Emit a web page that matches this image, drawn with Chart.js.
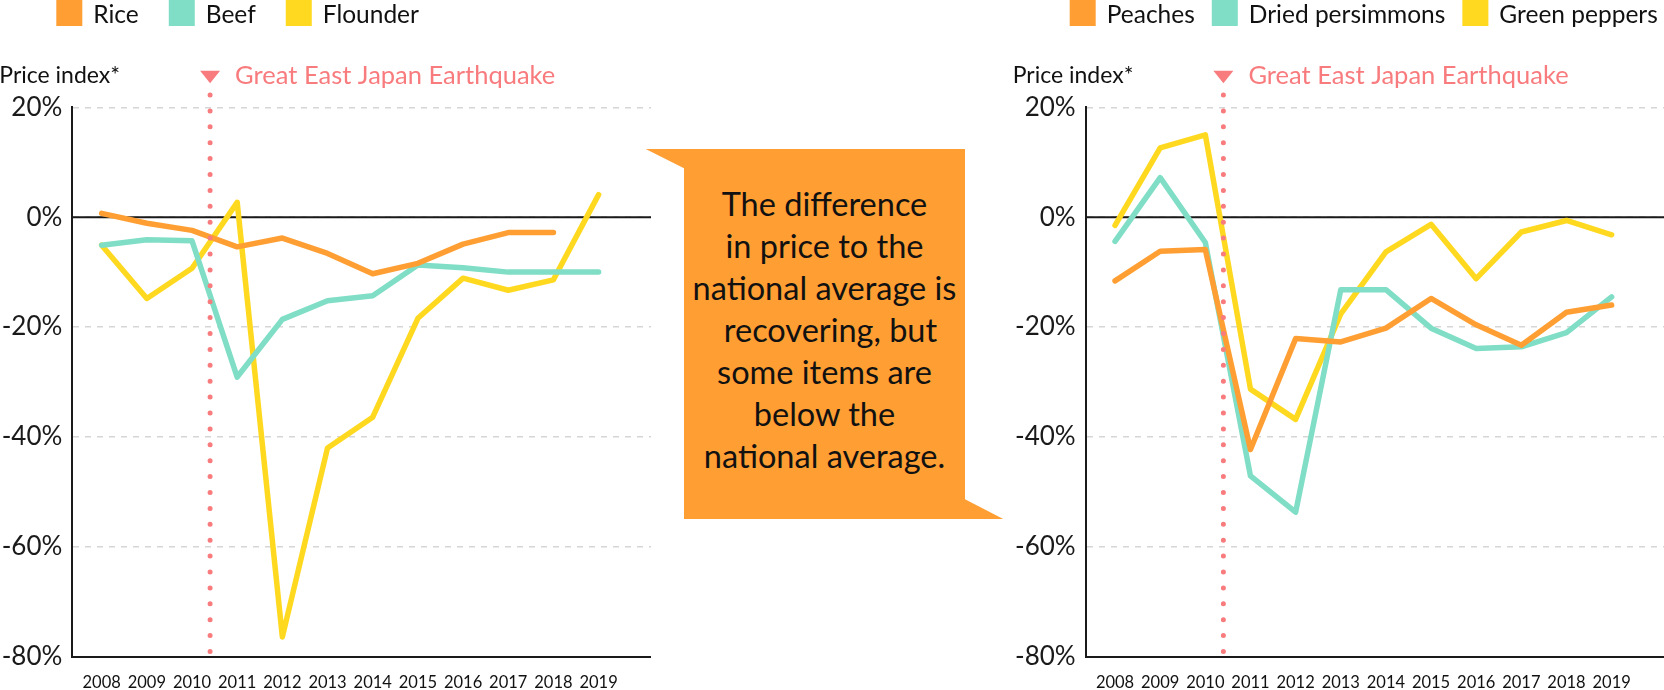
<!DOCTYPE html>
<html>
<head>
<meta charset="utf-8">
<script src="https://cdn.jsdelivr.net/npm/chart.js@4.4.1/dist/chart.umd.min.js"></script>
<style>
  html, body { margin: 0; padding: 0; background: #fff; }
  body { width: 1664px; height: 690px; position: relative; overflow: hidden; font-family: Lato, sans-serif; }
  #left { position: absolute; left: 0; top: 0; }
  #right { position: absolute; left: 1000px; top: 0; }
  #note {
    position: absolute; left: 645.7px; top: 149px; width: 357.6px; height: 370px;
    background: #FF9E33;
    clip-path: polygon(0px 0px, 319.3px 0px, 319.3px 350.3px, 357.6px 370px, 38.3px 370px, 38.3px 19.3px);
  }
  #note .txt {
    position: absolute; left: 38.3px; width: 281px; top: 34px;
    text-align: center; font-size: 32.5px; line-height: 42px; color: #111;
  }
  #note .txt div { white-space: nowrap; }
</style>
</head>
<body>
<canvas id="left" width="651" height="690"></canvas>
<canvas id="right" width="664" height="690"></canvas>
<div id="note"><div class="txt">
  <div>The difference</div>
  <div>in price to the</div>
  <div>national average is</div>
  <div style="padding-left:12px">recovering, but</div>
  <div>some items are</div>
  <div>below the</div>
  <div>national average.</div>
</div></div>
<script>
// datos (variação do índice de preço em %)
const years = [2008, 2009, 2010, 2011, 2012, 2013, 2014, 2015, 2016, 2017, 2018, 2019];
const quakeYear = 2010.4;

const leftNames = ['Rice', 'Beef', 'Flounder'];
const rice = [0.7, -1.1, -2.4, -5.4, -3.8, -6.6, -10.3, -8.4, -4.9, -2.8, -2.8, null];
const beef = [-5.1, -4.1, -4.3, -29.1, -18.6, -15.2, -14.3, -8.7, -9.2, -10.0, -10.0, -10.0];
const flounder = [-5.1, -14.8, -9.3, 2.7, -76.4, -42.0, -36.4, -18.4, -11.1, -13.3, -11.4, 4.1];

const rightNames = ['Peaches', 'Dried persimmons', 'Green peppers'];
const peaches = [-11.6, -6.2, -5.9, -42.3, -22.1, -22.7, -20.2, -14.8, -19.6, -23.3, -17.3, -16.0];
const driedPersimmons = [-4.4, 7.2, -4.6, -47.1, -53.7, -13.2, -13.2, -20.2, -23.9, -23.6, -21.0, -14.5];
const greenPeppers = [-1.5, 12.6, 15.0, -31.3, -36.8, -17.6, -6.3, -1.3, -11.2, -2.7, -0.6, -3.2];

const yMin = -80, yMax = 20, yStep = 20;
const colors = ['#FF9F33', '#7FDEC5', '#FFD91F'];
const quakeColor = '#F87B7E';
const quakeText = 'Great East Japan Earthquake';
const yTitle = 'Price index*';

// plugin p/ linha zero, terremoto, legenda e títulos
const decor = {
  id: 'decor',
  beforeDatasetsDraw(chart) {
    const ctx = chart.ctx, a = chart.chartArea;
    const y0 = chart.scales.y.getPixelForValue(0);
    ctx.save();
    ctx.strokeStyle = '#1a1a1a';
    ctx.lineWidth = 2;
    ctx.beginPath();
    ctx.moveTo(a.left, y0);
    ctx.lineTo(a.right, y0);
    ctx.stroke();
    ctx.restore();
  },
  afterDatasetsDraw(chart) {
    const ctx = chart.ctx, a = chart.chartArea;
    const xq = chart.scales.x.getPixelForValue(quakeYear);
    ctx.save();
    ctx.strokeStyle = quakeColor;
    ctx.lineWidth = 5;
    ctx.lineCap = 'round';
    ctx.setLineDash([0, 15.9]);
    ctx.beginPath();
    ctx.moveTo(xq, a.top - 12.3);
    ctx.lineTo(xq, a.bottom - 4);
    ctx.stroke();
    ctx.restore();
  },
  afterDraw(chart, args, opts) {
    const ctx = chart.ctx, a = chart.chartArea;
    const xq = chart.scales.x.getPixelForValue(quakeYear);
    ctx.save();
    // legenda
    ctx.font = '24.5px Lato';
    ctx.textBaseline = 'alphabetic';
    let x = a.left - 16;
    chart.data.datasets.forEach(function (ds) {
      ctx.fillStyle = ds.borderColor;
      ctx.fillRect(x, 0, 26, 26);
      ctx.fillStyle = '#111';
      ctx.fillText(ds.label, x + 37, 22.5);
      x += 37 + ctx.measureText(ds.label).width + opts.gap;
    });
    // título do eixo
    ctx.font = '23px Lato';
    ctx.fillStyle = '#111';
    ctx.fillText(yTitle, a.left - 73, 83);
    // marcador do terremoto
    ctx.fillStyle = quakeColor;
    ctx.beginPath();
    ctx.moveTo(xq - 10, 70.7);
    ctx.lineTo(xq + 10, 70.7);
    ctx.lineTo(xq, 83.3);
    ctx.closePath();
    ctx.fill();
    ctx.font = '25.5px Lato';
    ctx.fillText(quakeText, xq + 25, 83.5);
    ctx.restore();
  }
};

function makeChart(id, names, series, axisWidth, xMax, legendGap) {
  const ctx = document.getElementById(id).getContext('2d');
  return new Chart(ctx, {
    type: 'line',
    data: {
      labels: years,
      datasets: series.map(function (s, i) {
        return {
          label: names[i],
          data: s,
          borderColor: colors[i],
          backgroundColor: colors[i],
          borderWidth: 5.5,
          borderCapStyle: 'round',
          borderJoinStyle: 'round',
          pointRadius: 0,
          tension: 0,
          fill: false
        };
      })
    },
    options: {
      responsive: false,
      animation: false,
      devicePixelRatio: 1,
      layout: { padding: { top: 107.3, left: 0, right: 0, bottom: 0 } },
      plugins: {
        legend: { display: false },
        tooltip: { enabled: false },
        decor: { gap: legendGap }
      },
      scales: {
        x: {
          type: 'linear',
          min: 2007.35,
          max: xMax,
          afterBuildTicks: function (s) { s.ticks = years.map(function (v) { return { value: v }; }); },
          afterFit: function (s) { s.height = 33.3; },
          grid: { display: false, drawTicks: false },
          border: { display: true, color: '#1a1a1a', width: 2 },
          ticks: {
            autoSkip: false,
            maxRotation: 0,
            padding: 16,
            color: '#111',
            font: { family: 'Lato', size: 16.5 },
            callback: function (v) { return String(v); }
          }
        },
        y: {
          min: yMin,
          max: yMax,
          afterFit: function (s) { s.width = axisWidth; },
          grid: { color: '#d6d6d6', lineWidth: 1.5, drawTicks: false },
          border: { display: true, color: '#1a1a1a', width: 2, dash: [6, 6] },
          ticks: {
            stepSize: yStep,
            padding: 10,
            color: '#1a1a1a',
            font: { family: 'Lato', size: 26 },
            callback: function (v) { return v + '%'; }
          }
        }
      }
    },
    plugins: [decor]
  });
}

makeChart('left', leftNames, [rice, beef, flounder], 72.3, 2020.16, 30);
makeChart('right', rightNames, [peaches, driedPersimmons, greenPeppers], 85.7, 2020.16, 17);
</script>
</body>
</html>
